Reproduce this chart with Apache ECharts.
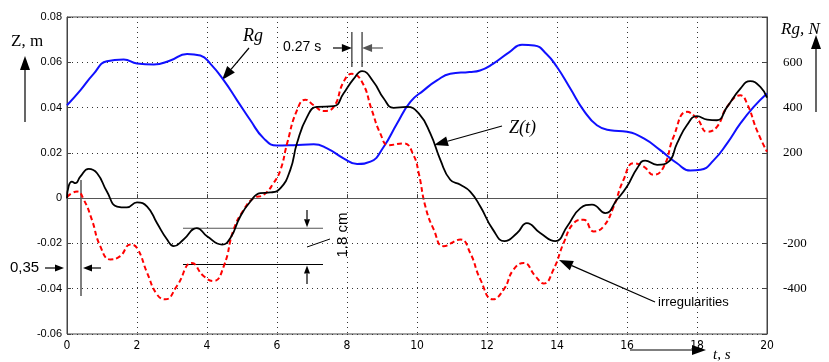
<!DOCTYPE html>
<html><head><meta charset="utf-8">
<script src="https://cdn.jsdelivr.net/npm/echarts@6/dist/echarts.min.js"></script>
<style>html,body{margin:0;padding:0;background:#fff}#c{width:829px;height:362px}</style>
</head><body><div id="c"></div>
<script>
// ---- data ----
const xTicks = [0,2,4,6,8,10,12,14,16,18,20];
const leftTickLabels = ['-0.06','-0.04','-0.02','0','0.02','0.04','0.06','0.08'];
const rightTickLabels = ['-400','-200','200','400','600'];

const rgTime = [0,0.38,0.76,1.14,1.62,2.0,2.48,2.95,3.43,3.81,4.1,4.48,4.86,5.24,5.62,6.0,6.48,7.05,7.43,7.9,8.29,8.67,9.05,9.43,9.81,10.19,10.57,10.95,11.5,11.8,12.17,12.64,13.0,13.35,13.7,14.0,14.38,14.76,15.14,15.52,16.0,16.48,16.95,17.43,17.81,18.1,18.48,18.86,19.24,19.62,20];
const rgValues = [410,476,549,605,612,595,590,608,637,630,593,520,432,344,264,232,234,238,220,176,151,161,227,330,425,476,520,549,557,564,593,645,677,674,637,579,484,388,322,300,293,264,212,154,122,125,168,242,330,403,462];

const zTime = [0,0.05,0.14,0.24,0.38,0.62,0.86,1.14,1.43,1.71,2.0,2.29,2.57,2.86,3.05,3.33,3.71,4.0,4.43,4.67,4.95,5.24,5.52,5.81,6.1,6.38,6.57,6.86,7.14,7.62,7.9,8.19,8.43,8.76,9.05,9.33,9.71,10.05,10.38,10.67,10.95,11.24,11.52,11.81,12.17,12.5,12.86,13.14,13.52,13.95,14.29,14.67,15.0,15.38,15.71,16.0,16.29,16.52,16.86,17.19,17.43,17.71,18.0,18.29,18.57,18.86,19.24,19.52,19.81,20];
const zValues = [0,0.0055,0.0073,0.0066,0.0095,0.0129,0.011,0.0029,-0.0037,-0.0041,-0.0019,-0.0037,-0.011,-0.0183,-0.0212,-0.0183,-0.0132,-0.0168,-0.0205,-0.0176,-0.0081,-0.0015,0.0022,0.0025,0.0044,0.0125,0.0242,0.0359,0.0403,0.0406,0.0462,0.0527,0.0561,0.0513,0.044,0.0399,0.0403,0.0374,0.0286,0.0168,0.0081,0.0059,0.0029,-0.0037,-0.0139,-0.019,-0.0154,-0.011,-0.0154,-0.019,-0.0125,-0.0044,-0.0029,-0.0066,-0.0007,0.0051,0.0132,0.0166,0.0147,0.0161,0.0242,0.0322,0.0362,0.0347,0.0344,0.0403,0.0484,0.0517,0.0491,0.0444];

const irrTime = [0,0.14,0.29,0.48,0.71,0.95,1.24,1.52,1.81,2.0,2.29,2.57,2.81,3.14,3.57,3.9,4.19,4.48,4.76,5.05,5.33,5.62,5.9,6.1,6.29,6.57,6.81,7.05,7.33,7.62,7.9,8.14,8.43,8.71,8.95,9.19,9.62,9.9,10.05,10.24,10.48,10.76,11.24,11.52,11.81,12.17,12.48,12.76,13.05,13.38,13.62,13.9,14.19,14.48,14.76,15.05,15.33,15.62,15.9,16.19,16.48,16.76,17.05,17.33,17.71,18.0,18.29,18.57,18.86,19.24,19.43,19.71,20];
const irrValues = [0.0005,0.0022,0.0029,-0.0007,-0.0095,-0.0212,-0.0271,-0.0256,-0.0205,-0.022,-0.033,-0.0425,-0.0447,-0.0388,-0.0286,-0.0344,-0.0366,-0.03,-0.0139,-0.0051,0,0.0015,0.0066,0.0125,0.0242,0.0388,0.0435,0.041,0.0385,0.0403,0.0513,0.0549,0.0513,0.0388,0.0286,0.0234,0.0242,0.019,0.011,-0.0037,-0.0139,-0.0212,-0.0183,-0.0242,-0.0359,-0.0447,-0.0403,-0.0315,-0.0286,-0.0344,-0.0377,-0.0315,-0.0198,-0.011,-0.0095,-0.0147,-0.0125,-0.0037,0.0081,0.0154,0.0139,0.0103,0.0139,0.0271,0.0381,0.0352,0.0293,0.0315,0.0403,0.0454,0.0418,0.03,0.0205];

const pair = (t, v) => t.map((x, i) => [x, v[i]]);

// ---- helpers for annotations ----
function arrow(x1, y1, x2, y2, color, hl, hw) {
  hl = hl || 10; hw = hw || 4;
  const dx = x2 - x1, dy = y2 - y1, L = Math.hypot(dx, dy);
  const ux = dx / L, uy = dy / L, px = -uy, py = ux;
  const bx = x2 - ux * hl, by = y2 - uy * hl;
  return [
    {type:'line', silent:true, shape:{x1:x1,y1:y1,x2:bx,y2:by}, style:{stroke:color,lineWidth:1.2}},
    {type:'polygon', silent:true, shape:{points:[[x2,y2],[bx+px*hw,by+py*hw],[bx-px*hw,by-py*hw]]}, style:{fill:color}}
  ];
}
function seg(x1, y1, x2, y2, color, w) {
  return {type:'line', silent:true, shape:{x1:x1,y1:y1,x2:x2,y2:y2}, style:{stroke:color||'#000', lineWidth:w||1}};
}
function txt(x, y, s, font, align, rot) {
  return {type:'text', silent:true, x:x, y:y, rotation:rot||0,
    style:{text:s, font:font, fill:'#000', textAlign:align||'left', textVerticalAlign:'middle'}};
}

const chart = echarts.init(document.getElementById('c'), null, {renderer:'canvas'});
const dotted = {show:true, lineStyle:{color:'#333', type:[1,4], width:1}};

chart.setOption({
  animation:false,
  backgroundColor:'#fff',
  grid:{left:67, right:62, top:17, bottom:28, show:true, borderColor:'#444', borderWidth:1, backgroundColor:'transparent'},
  xAxis:{type:'value', min:0, max:20, interval:2,
    axisLine:{show:true, lineStyle:{color:'#444'}},
    axisTick:{show:true, inside:true, length:4, lineStyle:{color:'#444'}},
    axisLabel:{color:'#000', fontSize:12, fontFamily:"'Liberation Sans Narrow','DejaVu Sans Condensed',sans-serif", margin:6,
      formatter:v => xTicks.indexOf(v) >= 0 ? String(v) : ''},
    splitLine:dotted},
  yAxis:[
    {type:'value', min:-0.06, max:0.08, interval:0.02,
      axisLine:{show:true, lineStyle:{color:'#444'}},
      axisTick:{show:true, inside:true, length:4, lineStyle:{color:'#444'}},
      axisLabel:{color:'#000', fontSize:11, fontFamily:"'Liberation Sans',Arial,sans-serif", margin:5,
        formatter:v => { const s = (Math.abs(v) < 1e-9) ? '0' : v.toFixed(2); return leftTickLabels.indexOf(s) >= 0 ? s : ''; }},
      splitLine:dotted},
    {type:'value', min:-600, max:800, interval:200, position:'right',
      axisLine:{show:true, lineStyle:{color:'#444'}},
      axisTick:{show:true, inside:true, length:4, lineStyle:{color:'#444'}},
      axisLabel:{color:'#000', fontSize:13, fontFamily:"'Liberation Serif','Times New Roman',serif", margin:16,
        formatter:v => rightTickLabels.indexOf(String(Math.round(v))) >= 0 ? String(Math.round(v)) : ''},
      splitLine:{show:false}}
  ],
  series:[
    {name:'Rg', type:'line', yAxisIndex:1, data:pair(rgTime, rgValues), smooth:0.5, showSymbol:false, symbol:'none',
      lineStyle:{color:'#1010ff', width:2}, z:3},
    {name:'irregularities', type:'line', data:pair(irrTime, irrValues), smooth:0.5, showSymbol:false, symbol:'none',
      lineStyle:{color:'#ff0000', width:2, type:[5,3]}, z:4},
    {name:'Z(t)', type:'line', data:pair(zTime, zValues), smooth:0.5, showSymbol:false, symbol:'none',
      lineStyle:{color:'#000', width:1.8}, z:5,
      markLine:{silent:true, symbol:'none', label:{show:false}, lineStyle:{color:'#555', type:'solid', width:1.2},
        data:[{yAxis:0}]}}
  ]
});

const P = (t, z) => chart.convertToPixel({gridIndex:0}, [t, z]);

const els = [];
const serif = "17px 'Liberation Serif',serif";
const iserif = "italic 18px 'Liberation Serif',serif";
const sans = "14px 'Liberation Sans',Arial,sans-serif";
// axis titles
els.push(txt(11, 42, 'Z, m', serif));
els.push(...arrow(25, 122, 25, 56, '#000', 14, 5));
els.push(txt(781, 30, 'Rg, N', "italic 17px 'Liberation Serif',serif"));
els.push(...arrow(816, 112, 816, 35, '#000', 14, 5));
els.push(...arrow(630, 350, 706, 350, '#000', 14, 5));
els.push(txt(713, 355, 't, s', "italic 15px 'Liberation Serif',serif"));
// Rg label
els.push(txt(243, 36, 'Rg', iserif));
els.push(...arrow(249, 48, 222, 80, '#000', 14, 5));
// 0.27 s
const a1 = P(8.14, 0)[0], a2 = P(8.43, 0)[0];
els.push(seg(a1, 32, a1, 67)); els.push(seg(a2, 32, a2, 67));
els.push(txt(283, 47, '0.27 s', sans));
els.push(...arrow(333, 48, a1, 48, '#000', 10, 4));
els.push(...arrow(383, 48, a2, 48, '#555', 10, 4));
// Z(t)
els.push(txt(509, 128, 'Z(t)', "italic 18px 'Liberation Serif',serif"));
els.push(...arrow(502, 126, 434, 145, '#000', 14, 5));
// irregularities
els.push(txt(658, 302, 'irregularities', "13px 'Liberation Sans',Arial,sans-serif"));
els.push(...arrow(655, 302, 559, 260, '#000', 14, 5));
// 1.8 cm
const yA = P(0, -0.0133)[1], yB = P(0, -0.0293)[1];
els.push(seg(183, yA, 323, yA, '#555', 1.2));
els.push(seg(183, yB, 323, yB, '#000', 1.2));
els.push(...arrow(307, 210, 307, yA - 1, '#000', 8, 3));
els.push(...arrow(307, 284, 307, yB + 1, '#000', 8, 3));
els.push(seg(307, 247, 330, 239, '#000', 1));
els.push(txt(343, 235, '1.8 cm', "15px 'Liberation Sans',Arial,sans-serif", 'center', Math.PI / 2));
// 0,35
const v0 = P(0.4, 0)[0];
els.push(seg(v0, 180, v0, 296, '#000', 1));
els.push(txt(10, 268, '0,35', "15px 'Liberation Sans',Arial,sans-serif"));
els.push(...arrow(45, 268, 64, 268, '#000', 9, 3.5));
els.push(...arrow(101, 268, v0 + 2, 268, '#000', 9, 3.5));

chart.setOption({graphic:{elements:els}});
</script>
</body></html>
